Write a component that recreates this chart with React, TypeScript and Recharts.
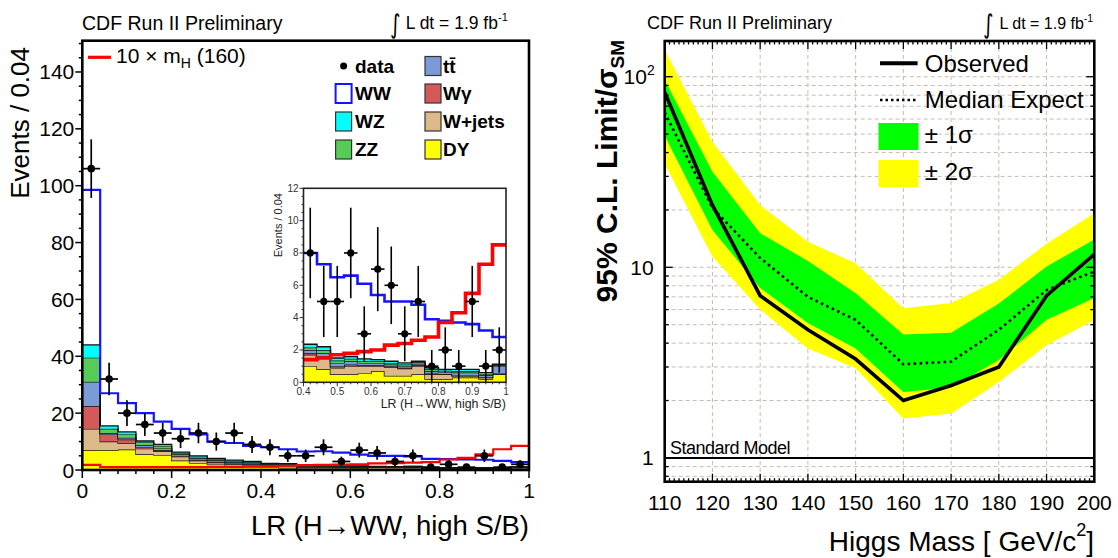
import React from "react";
import {
  ComposedChart, Area, Line, Scatter, ErrorBar,
  XAxis, YAxis, CartesianGrid, ReferenceLine,
} from "recharts";

const FONT = "'Liberation Sans', Arial, Helvetica, sans-serif";

// ---- LR (H->WW, high S/B) histogram, 25 bins of width 0.04 (low edges) ----
const binLow = [0, 0.04, 0.08, 0.12, 0.16, 0.2, 0.24, 0.28, 0.32, 0.36, 0.4, 0.44, 0.48,
  0.52, 0.56, 0.6, 0.64, 0.68, 0.72, 0.76, 0.8, 0.84, 0.88, 0.92, 0.96];
const dyBkg = [7.0, 7.0, 7.2, 5.5, 5.2, 3.3, 2.4, 1.9, 1.4, 1.2, 1.0, 0.8, 0.5, 0.5, 0.55, 0.7, 0.4, 0.4, 0.5, 0.2, 0.2, 0.3, 0.3, 0.2, 0.5];
const wjetsBkg = [7.5, 3.0, 2.3, 2.0, 1.4, 1.4, 0.9, 0.7, 0.7, 0.6, 0.7, 0.7, 0.4, 0.5, 0.45, 0.3, 0.55, 0.45, 0.5, 0.3, 0.3, 0.1, 0.1, 0.1, 0.02];
const wgamBkg = [8.0, 2.5, 1.2, 0.6, 0.4, 0.3, 0.3, 0.3, 0.2, 0.2, 0.1, 0.1, 0.1, 0.1, 0.05, 0.05, 0.05, 0.05, 0.05, 0.05, 0.02, 0.02, 0.02, 0.02, 0.02];
const ttBkg = [8.5, 0.5, 0.6, 0.7, 0.6, 0.5, 0.6, 0.5, 0.5, 0.4, 0.2, 0.2, 0.2, 0.2, 0.15, 0.15, 0.1, 0.1, 0.1, 0.15, 0.13, 0.18, 0.18, 0.13, 0.48];
const zzBkg = [8.5, 1.5, 1.3, 1.0, 0.9, 0.5, 0.5, 0.4, 0.4, 0.3, 0.15, 0.2, 0.15, 0.15, 0.1, 0.1, 0.1, 0.1, 0.1, 0.1, 0.07, 0.1, 0.1, 0.07, 0.05];
const wzBkg = [4.5, 1.0, 0.8, 0.4, 0.5, 0.3, 0.3, 0.3, 0.3, 0.3, 0.2, 0.2, 0.15, 0.15, 0.15, 0.1, 0.1, 0.1, 0.05, 0.1, 0.08, 0.1, 0.1, 0.08, 0.05];
// WW drawn as open histogram on top of the stack (level of its outline)
const wwTop = [98.5, 27, 23.5, 20, 17, 14.5, 12.5, 10, 9.5, 8.5, 8, 7.3, 6.5, 6.6, 6.1, 5.4, 5.0, 5.0, 4.8, 3.9, 3.8, 3.7, 3.6, 3.2, 2.8];
const signal160 = [1.8, 1.0, 1.0, 1.0, 1.0, 1.0, 1.0, 1.05, 1.1, 1.2, 1.4, 1.5, 1.7, 1.8, 1.9, 2.0, 2.3, 2.4, 2.6, 2.8, 3.7, 4.3, 5.5, 7.3, 8.5];
const dataCounts = [106, 32, 20, 16, 13, 11, 13, 10, 13, 9, 8, 5, 5, 8, 3, 7, 6, 3, 5, 1, 2, 1, 5, 1, 2];
const dataErr = [10.3, 5.7, 4.5, 4, 3.6, 3.3, 3.6, 3.2, 3.6, 3, 2.8, 2.2, 2.2, 2.8, 1.7, 2.6, 2.4, 1.7, 2.2, 1, 1.4, 1, 2.2, 1, 1.4];

// ---- 95% CL limit vs Higgs mass ----
const higgsMass = [110, 120, 130, 140, 150, 160, 170, 180, 190, 200];
const observed = [83, 21.2, 7.1, 4.7, 3.3, 2.0, 2.4, 3.0, 7.1, 11.7];
const expected = [65, 20.5, 11.2, 7.0, 5.3, 3.1, 3.2, 4.7, 7.6, 9.5];
const band1Lo = [49, 15.7, 7.8, 5.1, 3.75, 2.22, 2.34, 3.26, 5.3, 6.9];
const band1Hi = [96, 31.7, 15.1, 10.8, 7.3, 4.44, 4.53, 6.46, 10.1, 14.0];
const band2Lo = [35, 11.4, 6.0, 3.75, 2.95, 1.61, 1.71, 2.5, 3.9, 5.3];
const band2Hi = [138, 45.6, 21.2, 13.6, 10.5, 6.1, 6.5, 8.6, 13.3, 19.2];

// tick values
const lrTicks = Array.from({ length: 26 }, (_, i) => Number((i * 0.04).toFixed(2)));
const eventTicks = Array.from({ length: 31 }, (_, i) => i * 5);
const insetXTicks = Array.from({ length: 31 }, (_, i) => Number((0.4 + i * 0.02).toFixed(2)));
const insetYTicks = Array.from({ length: 25 }, (_, i) => i * 0.5);
const massTicks = Array.from({ length: 91 }, (_, i) => 110 + i);
const limitTicks = [0.8, 0.9, 1, 2, 3, 4, 5, 6, 7, 8, 9, 10, 20, 30, 40, 50, 60, 70, 80, 90, 100];
const gridX = [120, 130, 140, 150, 160, 170, 180, 190];
const gridY = [0.8, 0.9, 2, 3, 4, 5, 6, 7, 8, 9, 10, 20, 30, 40, 50, 60, 70, 80, 90, 100];

const histRows = [...binLow, 1].map((x, i) => {
  const k = Math.min(i, binLow.length - 1);
  return {
    x, dy: dyBkg[k], wjets: wjetsBkg[k], wgam: wgamBkg[k], tt: ttBkg[k],
    zz: zzBkg[k], wz: wzBkg[k], ww: wwTop[k], sig: signal160[k],
  };
});
const dataPoints = binLow.map((x, i) => ({
  x: Number((x + 0.02).toFixed(2)), y: dataCounts[i], ey: dataErr[i], ex: 0.02,
}));
const insetRows = histRows.filter((r) => r.x >= 0.4 - 1e-9);
const insetPoints = dataPoints.filter((p) => p.x > 0.4);

const limitRows = higgsMass.map((m, i) => ({
  m, obs: observed[i], exp: expected[i],
  lo1: band1Lo[i], hi1: band1Hi[i], lo2: band2Lo[i], hi2: band2Hi[i],
}));

const COL = {
  dy: "#ffff00", wjets: "#ddb98a", wgam: "#d45a5a", tt: "#7b9bd6",
  zz: "#55cc55", wz: "#00ffff", ww: "#1414ff", sig: "#ff0000",
};
const STACK: { key: keyof typeof COL }[] = [
  { key: "dy" }, { key: "wjets" }, { key: "wgam" }, { key: "tt" }, { key: "zz" }, { key: "wz" },
];

const LIM_W = 429.6;
const LIM_H = 440.7;

const isMult = (v: number, step: number) => Math.abs(v / step - Math.round(v / step)) < 1e-6;
const fmt = (v: number) => String(Number(v.toFixed(2)));

function LeftXTick({ x, y, payload }: any) {
  const v = payload.value;
  const major = isMult(v, 0.2);
  return (
    <g>
      <line x1={x} x2={x} y1={y} y2={y + (major ? 8 : 4)} stroke="#000" strokeWidth={1.5} />
      {major && (
        <text x={x} y={y + 28} textAnchor="middle" fontSize={21} fontFamily={FONT} fill="#000">{fmt(v)}</text>
      )}
    </g>
  );
}

function LeftYTick({ x, y, payload }: any) {
  const v = payload.value;
  const major = isMult(v, 20);
  return (
    <g>
      <line x1={x - (major ? 7 : 3.5)} x2={x} y1={y} y2={y} stroke="#000" strokeWidth={1.5} />
      {major && (
        <text x={x - 8} y={y + 7.5} textAnchor="end" fontSize={21} fontFamily={FONT} fill="#000">{v}</text>
      )}
    </g>
  );
}

function InsetXTick({ x, y, payload }: any) {
  const v = payload.value;
  const major = isMult(v, 0.1);
  return (
    <g>
      <line x1={x} x2={x} y1={y} y2={y + (major ? 4 : 2)} stroke="#333" strokeWidth={1} />
      {major && (
        <text x={x} y={y + 13} textAnchor="middle" fontSize={10} fontFamily={FONT} fill="#333">{fmt(v)}</text>
      )}
    </g>
  );
}

function InsetYTick({ x, y, payload }: any) {
  const v = payload.value;
  const major = isMult(v, 2);
  return (
    <g>
      <line x1={x - (major ? 4 : 2)} x2={x} y1={y} y2={y} stroke="#333" strokeWidth={1} />
      {major && (
        <text x={x - 5} y={y + 3.5} textAnchor="end" fontSize={10} fontFamily={FONT} fill="#333">{v}</text>
      )}
    </g>
  );
}

function MassTick({ x, y, payload }: any) {
  const v = payload.value;
  const major = v % 10 === 0;
  const len = major ? 8 : 3.5;
  return (
    <g>
      <line x1={x} x2={x} y1={y} y2={y - len} stroke="#000" strokeWidth={1.3} />
      <line x1={x} x2={x} y1={y - LIM_H} y2={y - LIM_H + len} stroke="#000" strokeWidth={1.3} />
      {major && (
        <text x={x} y={y + 28.5} textAnchor="middle" fontSize={21} fontFamily={FONT} fill="#000">{v}</text>
      )}
    </g>
  );
}

function LimitTick({ x, y, payload }: any) {
  const v = payload.value;
  const major = v === 1 || v === 10 || v === 100;
  const len = major ? 8 : 4;
  return (
    <g>
      <line x1={x} x2={x + len} y1={y} y2={y} stroke="#000" strokeWidth={1.3} />
      <line x1={x + LIM_W - len} x2={x + LIM_W} y1={y} y2={y} stroke="#000" strokeWidth={1.3} />
      {v === 100 && (
        <text x={x - 10} y={y + 7.5} textAnchor="end" fontSize={21} fontFamily={FONT} fill="#000">
          10<tspan dy={-9} fontSize={14}>2</tspan>
        </text>
      )}
      {(v === 10 || v === 1) && (
        <text x={x - 11} y={y + 7.5} textAnchor="end" fontSize={21} fontFamily={FONT} fill="#000">{v}</text>
      )}
    </g>
  );
}

function histLayers(outline: number, wwWidth: number, sigWidth: number) {
  return [
    ...STACK.map((s) => (
      <Area
        key={s.key}
        type="stepAfter"
        dataKey={s.key}
        stackId="bkg"
        fill={COL[s.key]}
        fillOpacity={1}
        stroke="#111"
        strokeWidth={outline}
        dot={false}
        activeDot={false}
        isAnimationActive={false}
      />
    )),
    <Line key="ww" type="stepAfter" dataKey="ww" stroke={COL.ww} strokeWidth={wwWidth} dot={false} activeDot={false} isAnimationActive={false} />,
    <Line key="sig" type="stepAfter" dataKey="sig" stroke={COL.sig} strokeWidth={sigWidth} dot={false} activeDot={false} isAnimationActive={false} />,
  ];
}

const dot = (r: number) => (p: any) => <circle cx={p.cx} cy={p.cy} r={r} fill="#000" />;

// axes are 1px thick so that recharts still draws their ticks; margins are set so the
// plot area lands on the reference frame
function LeftPanel() {
  return (
    <div style={{ position: "absolute", left: 0, top: 0 }}>
      <ComposedChart width={560} height={558} data={histRows} margin={{ top: 40.7, right: 31, bottom: 87, left: 81.3 }}>
        <XAxis type="number" dataKey="x" domain={[0, 1]} ticks={lrTicks} interval={0} tick={LeftXTick}
          tickLine={false} axisLine={false} tickSize={0} tickMargin={0} height={1} allowDataOverflow />
        <YAxis type="number" domain={[0, 151]} ticks={eventTicks} interval={0} tick={LeftYTick}
          tickLine={false} axisLine={false} tickSize={0} tickMargin={0} width={1} allowDataOverflow />
        {histLayers(1.3, 2.2, 2.2)}
        <Scatter data={dataPoints} dataKey="y" shape={dot(3.8)} isAnimationActive={false}>
          <ErrorBar dataKey="ey" direction="y" width={0} stroke="#000" strokeWidth={1.7} />
          <ErrorBar dataKey="ex" direction="x" width={0} stroke="#000" strokeWidth={1.7} />
        </Scatter>
      </ComposedChart>
    </div>
  );
}

function InsetPanel() {
  return (
    <div style={{ position: "absolute", left: 260, top: 175 }}>
      <ComposedChart width={260} height={245} data={insetRows} margin={{ top: 13.3, right: 14, bottom: 36.7, left: 42.5 }}>
        <XAxis type="number" dataKey="x" domain={[0.4, 1]} ticks={insetXTicks} interval={0} tick={InsetXTick}
          tickLine={false} axisLine={false} tickSize={0} tickMargin={0} height={1} allowDataOverflow />
        <YAxis type="number" domain={[0, 12]} ticks={insetYTicks} interval={0} tick={InsetYTick}
          tickLine={false} axisLine={false} tickSize={0} tickMargin={0} width={1} allowDataOverflow />
        {histLayers(1.4, 2.6, 3.6)}
        <Scatter data={insetPoints} dataKey="y" shape={dot(3.6)} isAnimationActive={false}>
          <ErrorBar dataKey="ey" direction="y" width={0} stroke="#000" strokeWidth={1.6} />
          <ErrorBar dataKey="ex" direction="x" width={0} stroke="#000" strokeWidth={1.6} />
        </Scatter>
      </ComposedChart>
    </div>
  );
}

function LimitPanel() {
  return (
    <div style={{ position: "absolute", left: 560, top: 0 }}>
      <ComposedChart width={558} height={558} data={limitRows} margin={{ top: 41, right: 23.7, bottom: 75.3, left: 103.7 }}>
        <CartesianGrid horizontalValues={gridY} verticalValues={gridX} stroke="#c8bcb0" strokeDasharray="4 3" />
        <XAxis type="number" dataKey="m" domain={[110, 200]} ticks={massTicks} interval={0} tick={MassTick}
          tickLine={false} axisLine={false} tickSize={0} tickMargin={0} height={1} allowDataOverflow />
        <YAxis type="number" scale="log" domain={[0.75, 154]} ticks={limitTicks} interval={0} tick={LimitTick}
          tickLine={false} axisLine={false} tickSize={0} tickMargin={0} width={1} allowDataOverflow />
        <Area type="linear" dataKey={(d: any) => [d.lo2, d.hi2]} fill="#ffff00" fillOpacity={1} stroke="none"
          dot={false} activeDot={false} isAnimationActive={false} />
        <Area type="linear" dataKey={(d: any) => [d.lo1, d.hi1]} fill="#00ff00" fillOpacity={1} stroke="none"
          dot={false} activeDot={false} isAnimationActive={false} />
        <ReferenceLine y={1} stroke="#000" strokeWidth={2} />
        <Line type="linear" dataKey="exp" stroke="#000" strokeWidth={2.6} strokeDasharray="2.5 3.5"
          dot={false} activeDot={false} isAnimationActive={false} />
        <Line type="linear" dataKey="obs" stroke="#000" strokeWidth={3.6}
          dot={false} activeDot={false} isAnimationActive={false} />
      </ComposedChart>
    </div>
  );
}

const LEGEND_ROWS = [
  [{ label: "data", kind: "dot" }, { label: "tt\u0304", kind: "tt" }],
  [{ label: "WW", kind: "ww" }, { label: "W\u03b3", kind: "wgam" }],
  [{ label: "WZ", kind: "wz" }, { label: "W+jets", kind: "wjets" }],
  [{ label: "ZZ", kind: "zz" }, { label: "DY", kind: "dy" }],
];

function Swatch({ x, yc, kind }: { x: number; yc: number; kind: string }) {
  if (kind === "dot") return <circle cx={x + 8} cy={yc} r={3.5} fill="#000" />;
  if (kind === "ww") {
    return <rect x={x} y={yc - 9.5} width={16} height={19} fill="#fff" stroke={COL.ww} strokeWidth={2} />;
  }
  return <rect x={x} y={yc - 9.5} width={16} height={19} fill={(COL as any)[kind]} stroke="#333" strokeWidth={1.2} />;
}

function Overlay() {
  const rowY = [66, 93.5, 121.5, 149.5];
  return (
    <svg width={1118} height={558} style={{ position: "absolute", left: 0, top: 0, pointerEvents: "none" }}
      fontFamily={FONT} fill="#000">
      {/* frames */}
      <rect x={82.3} y={40.7} width={446.7} height={429.3} fill="none" stroke="#000" strokeWidth={2.6} />
      <rect x={303.5} y={188.3} width={202.5} height={194} fill="none" stroke="#222" strokeWidth={1.6} />
      <rect x={664.7} y={41} width={LIM_W} height={LIM_H} fill="none" stroke="#000" strokeWidth={2.6} />

      {/* left panel header */}
      <text x={82} y={29.5} fontSize={19.5}>CDF Run II Preliminary</text>
      <text transform="translate(390,33) scale(1,1.3)" fontSize={20} fontFamily="'DejaVu Sans', sans-serif">{"\u222b"}</text>
      <text x={405.7} y={29.3} fontSize={17.5}>L dt = 1.9 fb<tspan dy={-8} fontSize={11}>-1</tspan></text>

      {/* left axis titles */}
      <text transform="translate(28.5,47) rotate(-90)" textAnchor="end" fontSize={26}>Events / 0.04</text>
      <text x={529} y={535} textAnchor="end" fontSize={27.5}>LR (H{"\u2192"}WW, high S/B)</text>

      {/* inset axis titles */}
      <text transform="translate(282,193) rotate(-90)" textAnchor="end" fontSize={11} fill="#222">Events / 0.04</text>
      <text x={506} y={408.3} textAnchor="end" fontSize={12.4} fill="#222">LR (H{"\u2192"}WW, high S/B)</text>

      {/* left legends */}
      <line x1={88} x2={111} y1={57.3} y2={57.3} stroke={COL.sig} strokeWidth={3.2} />
      <text x={116} y={63.3} fontSize={21}>
        10 {"\u00d7"} m<tspan dy={5} fontSize={14}>H</tspan><tspan dy={-5}> (160)</tspan>
      </text>
      {LEGEND_ROWS.map((row, r) =>
        row.map((item, c) => {
          const bx = c === 0 ? 335.6 : 425;
          const tx = c === 0 ? 355 : 443;
          return (
            <g key={`${r}-${c}`}>
              <Swatch x={bx} yc={rowY[r]} kind={item.kind} />
              <text x={tx} y={rowY[r] + 6.5} fontSize={19} fontWeight="bold">{item.label}</text>
            </g>
          );
        })
      )}

      {/* right panel header */}
      <text x={647} y={29} fontSize={18}>CDF Run II Preliminary</text>
      <text transform="translate(983,33) scale(1,1.3)" fontSize={20} fontFamily="'DejaVu Sans', sans-serif">{"\u222b"}</text>
      <text x={999.5} y={29} fontSize={16}>L dt = 1.9 fb<tspan dy={-7.5} fontSize={10.5}>-1</tspan></text>

      {/* right axis titles */}
      <text transform="translate(617,40) rotate(-90)" textAnchor="end" fontSize={30} fontWeight="bold">
        95% C.L. Limit/{"\u03c3"}<tspan dy={7} fontSize={19}>SM</tspan>
      </text>
      <text x={1094} y={551} textAnchor="end" fontSize={28}>
        Higgs Mass [ GeV/c<tspan dy={-15} fontSize={18}>2</tspan><tspan dy={15}>]</tspan>
      </text>

      {/* right legend */}
      <line x1={880} x2={917.6} y1={63.3} y2={63.3} stroke="#000" strokeWidth={4} />
      <text x={924.8} y={71.7} fontSize={24}>Observed</text>
      <line x1={880} x2={917.6} y1={100} y2={100} stroke="#000" strokeWidth={2.5} strokeDasharray="2.5 3" />
      <text x={924.8} y={108} fontSize={24}>Median Expect</text>
      <rect x={878.5} y={123} width={40} height={27} fill="#00ff00" />
      <text x={924.8} y={143.3} fontSize={24}>{"\u00b1"} 1{"\u03c3"}</text>
      <rect x={878.5} y={160} width={40} height={27} fill="#ffff00" />
      <text x={924.8} y={180} fontSize={24}>{"\u00b1"} 2{"\u03c3"}</text>

      <text x={670} y={454} fontSize={18} letterSpacing={-0.5}>Standard Model</text>
    </svg>
  );
}

export default function App() {
  return (
    <div style={{ position: "absolute", left: 0, top: 0, width: 1118, height: 558, background: "#fff", overflow: "hidden" }}>
      <LeftPanel />
      <InsetPanel />
      <LimitPanel />
      <Overlay />
    </div>
  );
}
